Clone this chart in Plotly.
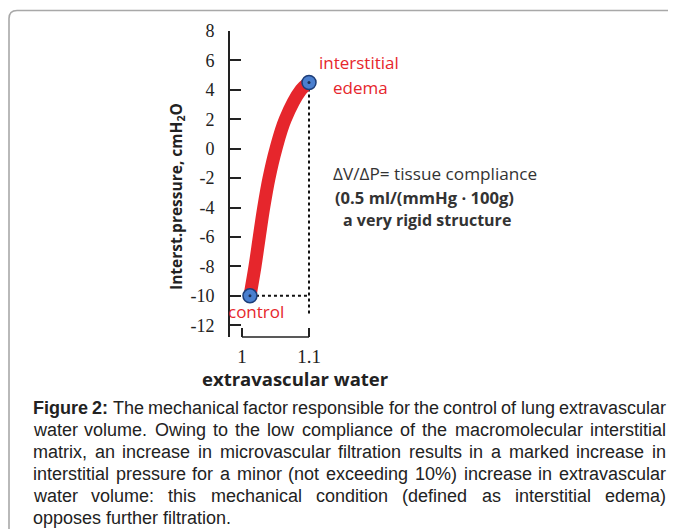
import plotly.graph_objects as go

# ---- data ----
pressure = [-10, -8, -6, -4, -2, 0, 2, 4, 4.5]
water = [1.0119, 1.0194, 1.0258, 1.0324, 1.0403, 1.0507, 1.0646, 1.0881, 1.1]
point_names = ["control", "interstitial edema"]
point_water = [1.0119, 1.1]
point_pressure = [-10, 4.5]
y_ticks = [8, 6, 4, 2, 0, -2, -4, -6, -8, -10, -12]
y_tick_text = ["8", "6", "4", "2", "0", "-2", "-4", "-6", "-8", "-10", "-12"]
x_ticks = [1, 1.1]
x_tick_text = ["1", "1.1"]
dotted_bottom = -11.2

caption_bold = "Figure 2:"
caption_lines = [
    "The mechanical factor responsible for the control of lung extravascular",
    "water volume. Owing to the low compliance of the macromolecular interstitial",
    "matrix, an increase in microvascular filtration results in a marked increase in",
    "interstitial pressure for a minor (not exceeding 10%) increase in extravascular",
    "water volume: this mechanical condition (defined as interstitial edema)",
    "opposes further filtration.",
]

# ---- geometry (reference pixel coords; page has an 8px body margin) ----
OFF = 8
W, H = 668, 521
PLOT_L, PLOT_R, PLOT_T, PLOT_B = 230, 572, 31, 337
ML, MR, MT, MB = PLOT_L - OFF, W - (PLOT_R - OFF), PLOT_T - OFF, H - (PLOT_B - OFF)
PW, PH = W - ML - MR, H - MT - MB
XPX = 670.0  # px per x unit


def px(x):
    return (x - OFF - ML) / PW


def py(y):
    return (H - MB - (y - OFF)) / PH


RED = "#e6262c"
fig = go.Figure()

# dotted guide lines
fig.add_trace(go.Scatter(x=[point_water[0], point_water[1]], y=[point_pressure[0], point_pressure[0]],
                         mode="lines", line=dict(color="#111", width=2, dash="dot"),
                         hoverinfo="skip", showlegend=False))
fig.add_trace(go.Scatter(x=[point_water[1], point_water[1]], y=[point_pressure[1], dotted_bottom],
                         mode="lines", line=dict(color="#111", width=2, dash="dot"),
                         hoverinfo="skip", showlegend=False))
# curve
fig.add_trace(go.Scatter(x=water, y=pressure, mode="lines",
                         line=dict(color=RED, width=13, shape="spline"),
                         showlegend=False))
# points
fig.add_trace(go.Scatter(x=point_water, y=point_pressure, mode="markers",
                         marker=dict(size=14, color="#4a7fcf", line=dict(color="#1d3d78", width=1.5)),
                         text=point_names, showlegend=False))
fig.add_trace(go.Scatter(x=point_water, y=point_pressure, mode="markers",
                         marker=dict(size=3, color="#1d2d50"), hoverinfo="skip", showlegend=False))

# x bracket
fig.add_shape(type="line", x0=x_ticks[0], x1=x_ticks[1], y0=0, y1=0, xref="x", yref="paper",
              line=dict(color="#222", width=1.6))

x_left = 1 - 12 / XPX
fig.update_layout(
    width=W, height=H,
    margin=dict(l=ML, r=MR, t=MT, b=MB),
    paper_bgcolor="white", plot_bgcolor="white",
    showlegend=False,
    xaxis=dict(range=[x_left, x_left + PW / XPX], showgrid=False, zeroline=False,
               showline=False, tickmode="array", tickvals=x_ticks, ticktext=x_tick_text,
               ticks="inside", ticklen=9, tickwidth=1.6, tickcolor="#222",
               tickfont=dict(family="Liberation Serif", size=19, color="#222"),
               ticklabelstandoff=6),
    yaxis=dict(range=[-12.8, 8], showgrid=False, zeroline=False, showline=True,
               linecolor="#222", linewidth=1.6, tickmode="array", tickvals=y_ticks,
               ticktext=y_tick_text, ticks="inside", ticklen=11, tickwidth=1.6,
               tickcolor="#222", tickfont=dict(family="Liberation Serif", size=18, color="#222"),
               ticklabelstandoff=10),
)

ann = []
sans = "Open Sans"
ann.append(dict(x=px(176), y=py(197), text="<b>Interst.pressure, cmH<sub>2</sub>O</b>", textangle=-90,
                font=dict(family=sans, size=15.5, color="#222")))
ann.append(dict(x=px(295), y=py(378), text="<b>extravascular water</b>",
                font=dict(family=sans, size=18.5, color="#222")))
ann.append(dict(x=px(359), y=py(63), text="interstitial", font=dict(family=sans, size=17, color=RED)))
ann.append(dict(x=px(360), y=py(87), text="edema", font=dict(family=sans, size=17, color=RED)))
ann.append(dict(x=px(256), y=py(311), text="control", font=dict(family=sans, size=17, color=RED)))
ann.append(dict(x=px(331), y=py(173), text="ΔV/ΔP= tissue compliance", xanchor="left",
                font=dict(family=sans, size=17.2, color="#333")))
ann.append(dict(x=px(333), y=py(197), text="<b>(0.5 ml/(mmHg · 100g)</b>", xanchor="left",
                font=dict(family=sans, size=16.6, color="#333")))
ann.append(dict(x=px(341), y=py(220), text="<b>a very rigid structure</b>", xanchor="left",
                font=dict(family=sans, size=16, color="#333")))

# ---- justified caption (Arial / Liberation Sans metrics) ----
REG = dict(a=556, b=556, c=500, d=556, e=556, f=278, g=556, h=556, i=222, j=222, k=500, l=222,
           m=833, n=556, o=556, p=556, q=556, r=333, s=500, t=278, u=556, v=500, w=722, x=500,
           y=500, z=500, F=611, O=778, T=611)
REG.update({" ": 278, ".": 278, ",": 278, ":": 278, "(": 333, ")": 333, "%": 889})
BOLD = dict(a=556, b=611, c=556, d=611, e=556, f=333, g=611, h=611, i=278, l=278, m=889, n=611,
            o=611, r=389, s=556, t=333, u=611, F=611)
BOLD.update({" ": 278, ":": 333})
CAP_FONT = "Liberation Sans, Arial, sans-serif"
CAP_SIZE = 18
CAP_L, CAP_R = 32, 665
cap_y = [408, 430, 452, 474, 496, 518]


def tw(s, bold=False):
    tab = BOLD if bold else REG
    return sum(tab.get(ch, 556) for ch in s) / 1000.0 * CAP_SIZE


def cap_word(text, x, y, bold=False):
    ann.append(dict(x=px(x), y=py(y), text=f"<b>{text}</b>" if bold else text, xanchor="left",
                    xshift=-1, font=dict(family=CAP_FONT, size=CAP_SIZE, color="#222")))


for li, (line, yy) in enumerate(zip(caption_lines, cap_y)):
    words = [(w, False) for w in line.split(" ")]
    if li == 0:
        words = [(w, True) for w in caption_bold.split(" ")] + words
    if li == len(caption_lines) - 1:
        cap_word(line, CAP_L, yy)
        continue
    total = sum(tw(w, b) for w, b in words)
    gap = (CAP_R - CAP_L - total) / (len(words) - 1)
    xx = CAP_L
    for w, b in words:
        cap_word(w, xx, yy, b)
        xx += tw(w, b) + gap

for a in ann:
    a.update(xref="paper", yref="paper", showarrow=False)
    a.setdefault("xanchor", "center")
    a.setdefault("yanchor", "middle")
fig.update_layout(annotations=ann)

# outer frame with rounded corner
r = 8
path = (f"M {px(9)},{py(560)} L {px(9)},{py(10.5 + r)} "
        f"Q {px(9)},{py(10.5)} {px(9 + r)},{py(10.5)} L {px(700)},{py(10.5)}")
fig.add_shape(type="path", path=path, xref="paper", yref="paper",
              line=dict(color="#a8a8a8", width=1.6))

fig.write_html("out.html")
